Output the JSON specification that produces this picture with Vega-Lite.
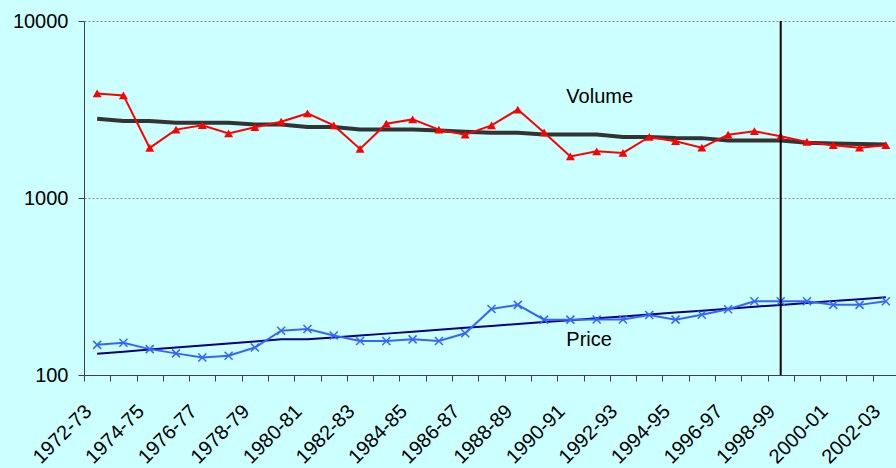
{
  "$schema": "https://vega.github.io/schema/vega-lite/v6.json",
  "width": 812,
  "height": 354,
  "autosize": {"type": "none"},
  "padding": {"left": 84, "top": 21, "right": 0, "bottom": 93},
  "background": "#CCFFFF",
  "config": {"view": {"stroke": null}, "font": "Liberation Sans"},
  "datasets": {
    "series": [
      {"year": "1972-73", "volume": 3900, "volumeTrend": 2805, "price": 148, "priceTrend": 132.0},
      {"year": "1973-74", "volume": 3799, "volumeTrend": 2719, "price": 152, "priceTrend": 135.5},
      {"year": "1974-75", "volume": 1918, "volumeTrend": 2719, "price": 140, "priceTrend": 139.2},
      {"year": "1975-76", "volume": 2434, "volumeTrend": 2663, "price": 132.5, "priceTrend": 142.9},
      {"year": "1976-77", "volume": 2577, "volumeTrend": 2663, "price": 125.7, "priceTrend": 146.9},
      {"year": "1977-78", "volume": 2316, "volumeTrend": 2663, "price": 128.5, "priceTrend": 150.8},
      {"year": "1978-79", "volume": 2512, "volumeTrend": 2605, "price": 143, "priceTrend": 154.7},
      {"year": "1979-80", "volume": 2698, "volumeTrend": 2605, "price": 178, "priceTrend": 159.0},
      {"year": "1980-81", "volume": 3005, "volumeTrend": 2515, "price": 182, "priceTrend": 159.0},
      {"year": "1981-82", "volume": 2571, "volumeTrend": 2515, "price": 167, "priceTrend": 163.0},
      {"year": "1982-83", "volume": 1893, "volumeTrend": 2440, "price": 155.6, "priceTrend": 167.1},
      {"year": "1983-84", "volume": 2629, "volumeTrend": 2440, "price": 155.6, "priceTrend": 171.3},
      {"year": "1984-85", "volume": 2780, "volumeTrend": 2440, "price": 159, "priceTrend": 175.6},
      {"year": "1985-86", "volume": 2434, "volumeTrend": 2409, "price": 155.6, "priceTrend": 180.0},
      {"year": "1986-87", "volume": 2278, "volumeTrend": 2371, "price": 172, "priceTrend": 184.7},
      {"year": "1987-88", "volume": 2571, "volumeTrend": 2338, "price": 236, "priceTrend": 189.3},
      {"year": "1988-89", "volume": 3158, "volumeTrend": 2338, "price": 249, "priceTrend": 194.1},
      {"year": "1989-90", "volume": 2347, "volumeTrend": 2287, "price": 205.5, "priceTrend": 199.0},
      {"year": "1990-91", "volume": 1717, "volumeTrend": 2287, "price": 205.5, "priceTrend": 203.9},
      {"year": "1991-92", "volume": 1837, "volumeTrend": 2287, "price": 206, "priceTrend": 209.0},
      {"year": "1992-93", "volume": 1797, "volumeTrend": 2213, "price": 206, "priceTrend": 214.3},
      {"year": "1993-94", "volume": 2213, "volumeTrend": 2208, "price": 218.5, "priceTrend": 219.6},
      {"year": "1994-95", "volume": 2093, "volumeTrend": 2185, "price": 205.5, "priceTrend": 225.2},
      {"year": "1995-96", "volume": 1923, "volumeTrend": 2179, "price": 219, "priceTrend": 230.8},
      {"year": "1996-97", "volume": 2280, "volumeTrend": 2114, "price": 235, "priceTrend": 236.8},
      {"year": "1997-98", "volume": 2384, "volumeTrend": 2114, "price": 261, "priceTrend": 242.8},
      {"year": "1998-99", "volume": 2234, "volumeTrend": 2114, "price": 261, "priceTrend": 248.9},
      {"year": "1999-00", "volume": 2074, "volumeTrend": 2052, "price": 261, "priceTrend": 255.1},
      {"year": "2000-01", "volume": 1987, "volumeTrend": 2033, "price": 249, "priceTrend": 261.5},
      {"year": "2001-02", "volume": 1923, "volumeTrend": 2020, "price": 249, "priceTrend": 268.1},
      {"year": "2002-03", "volume": 1987, "volumeTrend": 2008, "price": 261, "priceTrend": 274.7}
    ],
    "labels": [
      {"year": "1990-91", "value": 3700, "label": "Volume"},
      {"year": "1990-91", "value": 158, "label": "Price"}
    ],
    "marker": [
      {"year": "1998-99"}
    ]
  },
  "data": {"name": "series"},
  "encoding": {
    "x": {
      "field": "year",
      "type": "ordinal",
      "sort": null,
      "scale": {"type": "band", "paddingInner": 0, "paddingOuter": 0, "range": [0, 815]},
      "axis": {
        "title": null,
        "labelAngle": -45,
        "labelAlign": "right",
        "labelBaseline": "middle",
        "labelFontSize": 20,
        "labelColor": "#000000",
        "labelPadding": 27,
        "labelOffset": -9,
        "labelOverlap": false,
        "labelExpr": "toNumber(substring(datum.value, 0, 4)) % 2 == 0 ? datum.label : ''",
        "tickBand": "extent",
        "tickSize": 6,
        "tickColor": "#404040",
        "domainColor": "#404040",
        "grid": false
      }
    }
  },
  "layer": [
    {
      "mark": {"type": "line", "color": "#333333", "strokeWidth": 4},
      "encoding": {
        "y": {
          "field": "volumeTrend",
          "type": "quantitative",
          "scale": {"type": "log", "domain": [100, 10000]},
          "axis": {
            "title": null,
            "values": [100, 1000, 10000],
            "format": "d",
            "labelFontSize": 20,
            "labelColor": "#000000",
            "labelPadding": 10,
            "tickSize": 6,
            "tickColor": "#404040",
            "domainColor": "#404040",
            "grid": true,
            "gridDash": [2, 2],
            "gridColor": "#888888"
          }
        }
      }
    },
    {
      "mark": {"type": "line", "color": "#000080", "strokeWidth": 2},
      "encoding": {"y": {"field": "priceTrend", "type": "quantitative"}}
    },
    {
      "mark": {"type": "line", "color": "#FF0000", "strokeWidth": 2},
      "encoding": {"y": {"field": "volume", "type": "quantitative"}}
    },
    {
      "mark": {"type": "point", "shape": "triangle-up", "filled": true, "color": "#FF0000", "size": 80, "opacity": 1},
      "encoding": {"y": {"field": "volume", "type": "quantitative"}}
    },
    {
      "mark": {"type": "line", "color": "#3366FF", "strokeWidth": 2},
      "encoding": {"y": {"field": "price", "type": "quantitative"}}
    },
    {
      "mark": {"type": "point", "shape": "M-1,-1L1,1M1,-1L-1,1", "filled": false, "color": "#3366FF", "strokeWidth": 1.5, "size": 64, "opacity": 1},
      "encoding": {"y": {"field": "price", "type": "quantitative"}}
    },
    {
      "data": {"name": "marker"},
      "mark": {"type": "rule", "color": "#000000", "strokeWidth": 2},
      "encoding": {}
    },
    {
      "data": {"name": "labels"},
      "mark": {"type": "text", "align": "left", "baseline": "middle", "fontSize": 20, "color": "#000000", "dx": -4},
      "encoding": {
        "y": {"field": "value", "type": "quantitative"},
        "text": {"field": "label"}
      }
    }
  ]
}
